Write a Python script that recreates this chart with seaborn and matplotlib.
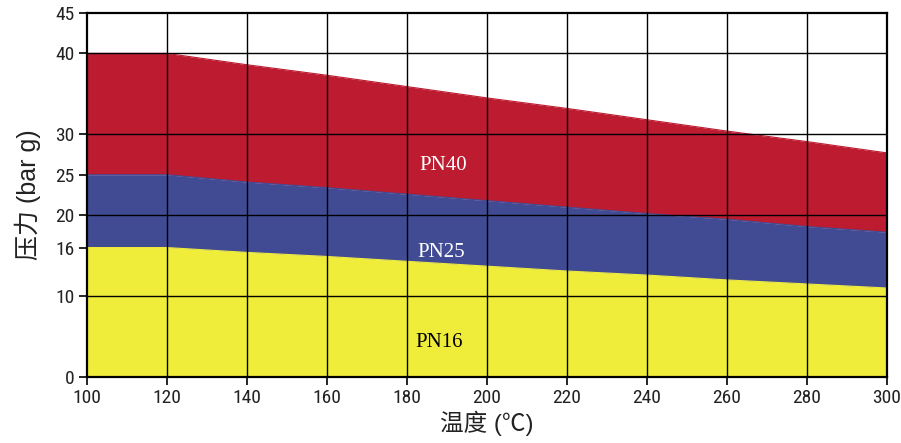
import numpy as np
import pandas as pd
import matplotlib
matplotlib.use('Agg')
import matplotlib.pyplot as plt
from matplotlib import font_manager
import seaborn as sns

# --- data ---
temps = [100, 120, 140, 160, 180, 200, 220, 240, 260, 280, 300]
pn40 = [40, 40, 38.6, 37.3, 35.9, 34.5, 33.2, 31.8, 30.4, 29.1, 27.7]
pn25 = [25, 25, 24.1, 23.4, 22.6, 21.8, 21.0, 20.2, 19.5, 18.6, 17.9]
pn16 = [16, 16, 15.4, 14.9, 14.3, 13.7, 13.1, 12.6, 12.0, 11.5, 11.0]

x_ticks = list(range(100, 301, 20))
y_ticks = [0, 10, 16, 20, 25, 30, 40, 45]
grid_y = [10, 20, 30, 40]

df = pd.DataFrame({'temp': temps, 'PN40': pn40, 'PN25': pn25, 'PN16': pn16})

# narrow font for the tick numbers, if one is around
names = {f.name for f in font_manager.fontManager.ttflist}
tick_font = next((f for f in ['Liberation Sans Narrow', 'DejaVu Sans Condensed', 'Roboto Condensed']
                  if f in names), 'Liberation Sans')

sns.set_theme(style='white')
plt.rcParams['font.family'] = [tick_font, 'Noto Sans CJK SC', 'DejaVu Sans']

fig = plt.figure(figsize=(9.01, 4.43), dpi=100)
ax = fig.add_axes([0.0966, 0.149, 0.8879, 0.8217])

colors = {'PN40': '#BC1B30', 'PN25': '#414B94', 'PN16': '#F0EC3A'}
lower = {'PN40': 'PN25', 'PN25': 'PN16', 'PN16': None}

for name in ['PN40', 'PN25', 'PN16']:
    base = df[lower[name]] if lower[name] else 0
    ax.fill_between(df['temp'], base, df[name], color=colors[name], lw=0, zorder=1)
    sns.lineplot(data=df, x='temp', y=name, ax=ax, color=colors[name], lw=0.8, zorder=1)

# grid on top of the fills
for v in x_ticks[1:-1]:
    ax.axvline(v, color='black', lw=1.0, zorder=3)
for v in grid_y:
    ax.axhline(v, color='black', lw=1.0, zorder=3)

ax.set_xlim(100, 300)
ax.set_ylim(0, 45)
ax.set_xticks(x_ticks)
ax.set_yticks(y_ticks)
ax.tick_params(axis='both', direction='out', length=6, width=1.2, color='black',
               labelsize=14, labelcolor='#222222', left=True, bottom=True, pad=3)
for s in ax.spines.values():
    s.set_color('black')
    s.set_linewidth(1.6)
    s.set_zorder(4)

cjk = ['Liberation Sans', 'Noto Sans CJK SC', 'DejaVu Sans']
ax.set_xlabel('温度 (℃)', fontsize=17, family=cjk, labelpad=2, color='#222222')
ax.set_ylabel('压力 (bar g)', fontsize=18, family=cjk, labelpad=10, color='#222222')

label_font = dict(family='Liberation Serif', fontsize=15, ha='center', va='center', zorder=5)
ax.text(189, 26.2, 'PN40', color='white', **label_font)
ax.text(188.5, 15.4, 'PN25', color='white', **label_font)
ax.text(188, 4.3, 'PN16', color='black', **label_font)

fig.savefig('out.png', dpi=100)
